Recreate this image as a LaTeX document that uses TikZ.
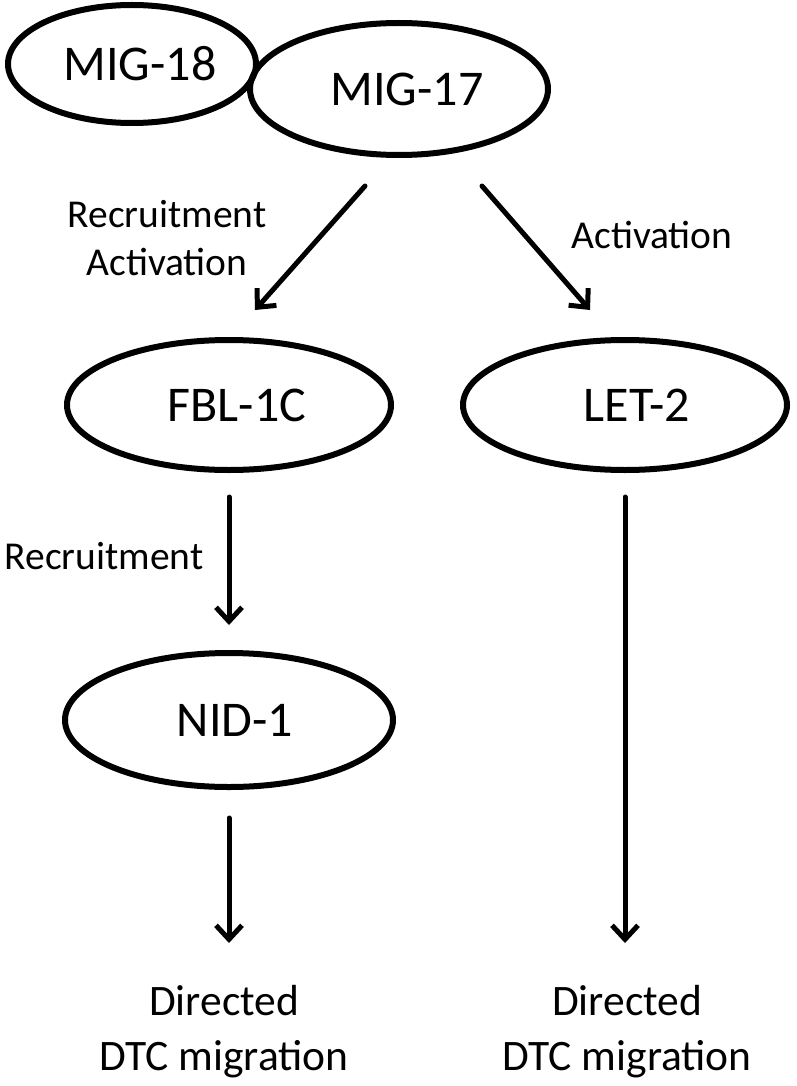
\documentclass[tikz,border=0pt]{standalone}
\usepackage{fontspec}
\setmainfont{Carlito}
\usetikzlibrary{arrows.meta,shapes.geometric}
\begin{document}
\begin{tikzpicture}[x=1pt,y=-1pt,
  oval/.style={draw, line width=6pt, ellipse, inner sep=0pt, outer sep=0pt, font=\fontsize{50}{60}\selectfont},
  arr/.style={line width=5pt, line cap=round, line join=round, -{Straight Barb[length=14pt,width=26pt]}},
  lbl/.style={font=\fontsize{39.5}{48}\selectfont, inner sep=0pt, align=center},
  outtxt/.style={font=\fontsize{43.5}{55}\selectfont, inner sep=0pt, align=center}]
\useasboundingbox (0,0) rectangle (797,1086);
% ovals
\node[oval, minimum width=248pt, minimum height=118pt] (mig18) at (132,64) {\hspace*{16pt}MIG-18};
\node[oval, minimum width=298pt, minimum height=132pt] (mig17) at (399,89) {\hspace*{16pt}MIG-17};
\node[oval, minimum width=324pt, minimum height=130pt] (fbl) at (229,405) {\hspace*{16pt}FBL-1C};
\node[oval, minimum width=324pt, minimum height=130pt] (let2) at (625,405) {\hspace*{24pt}LET-2};
\node[oval, minimum width=328pt, minimum height=134pt] (nid) at (229,720) {\hspace*{12pt}NID-1};
% outcomes
\node[outtxt, anchor=north] (out1) at (224,985) {Directed\\DTC migration};
\node[outtxt, anchor=north] (out2) at (627,985) {Directed\\DTC migration};
% labels
\node[lbl, anchor=north] (l1) at (167,200) {Recruitment\\Activation};
\node[lbl, anchor=base] (l2) at (652,248) {Activation};
\node[lbl, anchor=base] (l3) at (104,569) {Recruitment};
% connectors
\coordinate (a1s) at (365,186);
\coordinate (a1e) at (255,310);
\coordinate (a2s) at (482,186);
\coordinate (a2e) at (590,310);
\draw[arr] (a1s) -- (a1e);
\draw[arr] (a2s) -- (a2e);
\draw[arr, shorten <=27pt, shorten >=28pt] (fbl.south) -- (nid.north);
\draw[arr, shorten <=31pt, shorten >=42pt] (nid.south) -- (nid.south |- out1.north);
\draw[arr, shorten <=27pt, shorten >=42pt] (let2.south) -- (let2.south |- out2.north);
\end{tikzpicture}
\end{document}
